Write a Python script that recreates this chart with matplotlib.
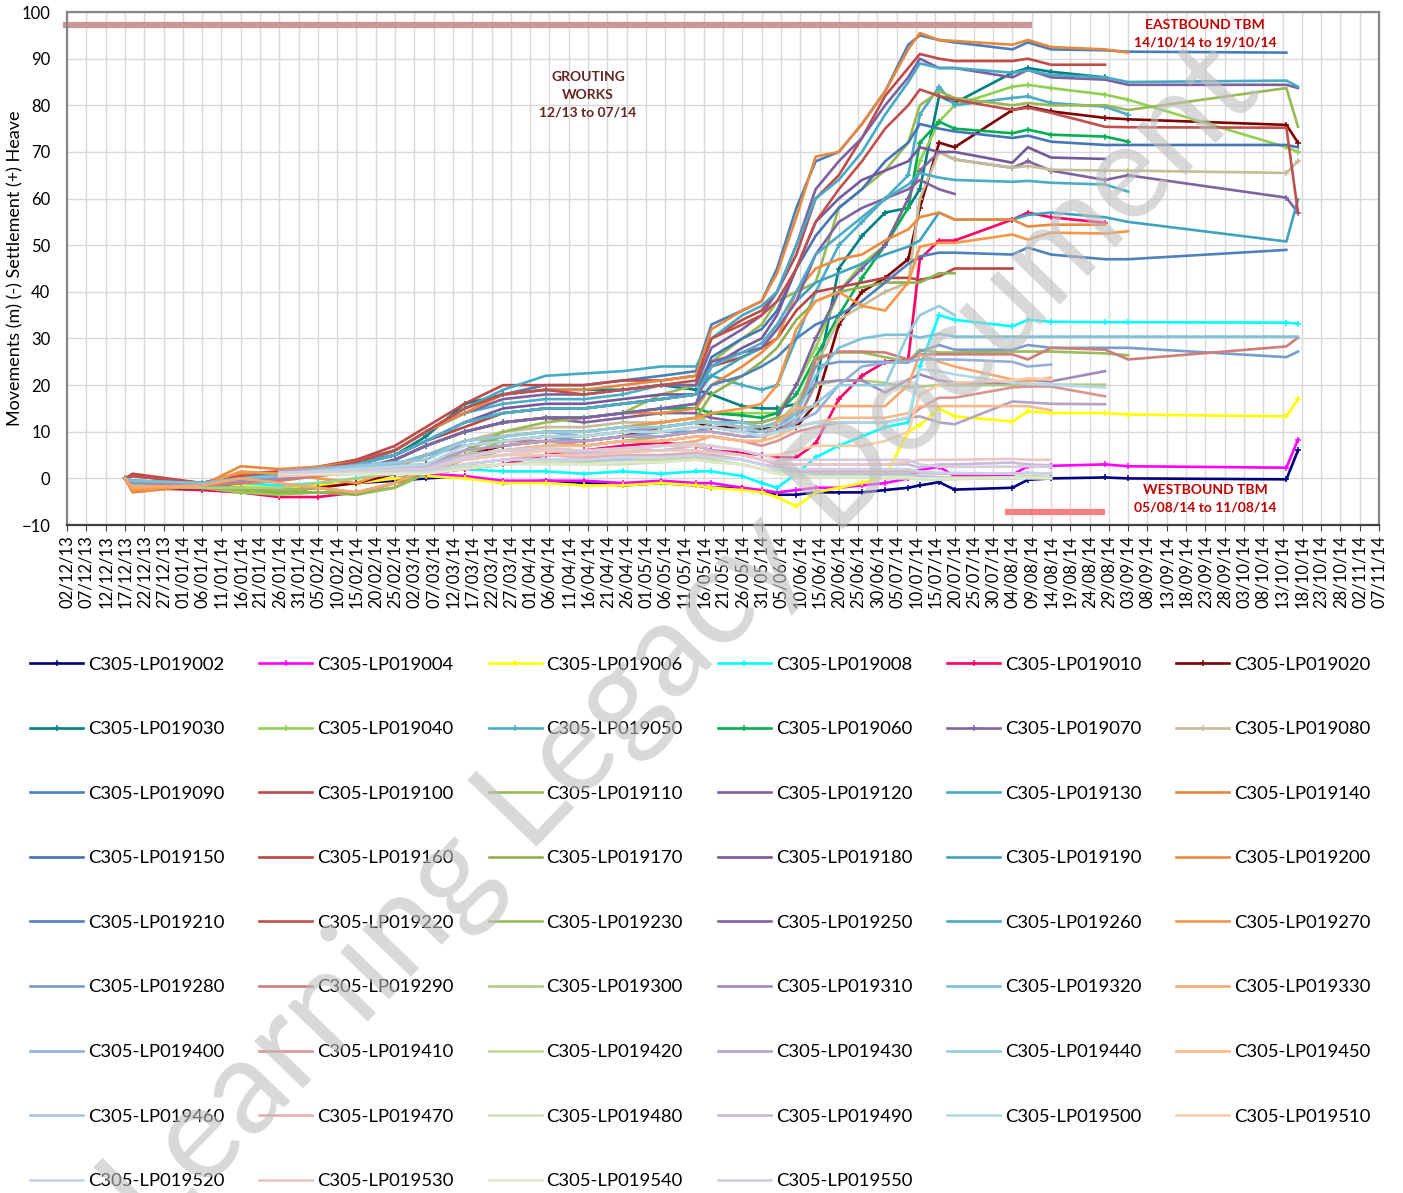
import numpy as np
import pandas as pd
import matplotlib
matplotlib.use("Agg")
import matplotlib.pyplot as plt
import matplotlib.dates as mdates

plt.rcParams['font.family'] = ['Lato', 'DejaVu Sans']

NA = np.nan

# reading dates used as key points (dd/mm/yy)
DATES = ["17/12/13", "19/12/13", "06/01/14", "16/01/14", "26/01/14", "05/02/14",
         "15/02/14", "25/02/14", "05/03/14", "15/03/14", "25/03/14", "05/04/14",
         "15/04/14", "25/04/14", "05/05/14", "14/05/14", "18/05/14", "26/05/14",
         "31/05/14", "04/06/14", "09/06/14", "14/06/14", "20/06/14", "26/06/14",
         "02/07/14", "08/07/14", "11/07/14", "16/07/14", "20/07/14", "04/08/14",
         "08/08/14", "14/08/14", "28/08/14", "03/09/14", "14/10/14", "17/10/14"]

SERIES = ["C305-LP019002", "C305-LP019004", "C305-LP019006", "C305-LP019008", "C305-LP019010", "C305-LP019020",
          "C305-LP019030", "C305-LP019040", "C305-LP019050", "C305-LP019060", "C305-LP019070", "C305-LP019080",
          "C305-LP019090", "C305-LP019100", "C305-LP019110", "C305-LP019120", "C305-LP019130", "C305-LP019140",
          "C305-LP019150", "C305-LP019160", "C305-LP019170", "C305-LP019180", "C305-LP019190", "C305-LP019200",
          "C305-LP019210", "C305-LP019220", "C305-LP019230", "C305-LP019250", "C305-LP019260", "C305-LP019270",
          "C305-LP019280", "C305-LP019290", "C305-LP019300", "C305-LP019310", "C305-LP019320", "C305-LP019330",
          "C305-LP019400", "C305-LP019410", "C305-LP019420", "C305-LP019430", "C305-LP019440", "C305-LP019450",
          "C305-LP019460", "C305-LP019470", "C305-LP019480", "C305-LP019490", "C305-LP019500", "C305-LP019510",
          "C305-LP019520", "C305-LP019530", "C305-LP019540", "C305-LP019550"]

COLORS = ['#000080', '#FF00FF', '#FFFF00', '#00FFFF', '#FF0066', '#800000',
          '#008080', '#92D050', '#4BACC6', '#00B050', '#8064A2', '#C4BD97',
          '#4A7EBB', '#BE4B48', '#98B954', '#7D60A0', '#46AAC5', '#E6883E',
          '#4575B4', '#B84743', '#8FB150', '#76599A', '#40A3BD', '#EB8B3F',
          '#4F81BD', '#C0504D', '#9BBB59', '#8064A2', '#4BACC6', '#F79646',
          '#7A9CCD', '#CD7E7C', '#B1CB84', '#9F8BBA', '#7CC1D6', '#F8A86F',
          '#94AFDA', '#D99593', '#C3D69B', '#B3A2C7', '#93CDDD', '#FAB98A',
          '#AFC3E3', '#E3AFAE', '#D3E1B7', '#C6BAD7', '#B1DAE6', '#FBCCAA',
          '#C6D4EB', '#EBC6C5', '#DEE8CB', '#D6CCE2']

N_MARKED = 12  # first 12 series carry "+" markers

S002 = [0, -2, -1.5, -2, -2, -1.5, -1, -0.5, 0, 0.5, -1, -0.5, -1, -1.5, -1, -1.5, -2, -2,
        -3, -3.5, -3.5, -3, -3, -3, -2.5, -2, -1.5, -0.8, -2.4, -2, -0.3, 0, 0.2, 0, -0.2, 6]
S004 = [0, -1.5, -1.5, -2, -2.5, -1.5, -1, 0, 1, 0.5, -0.5, -0.5, -0.5, -1, -0.5, -1, -1, -2,
        -2.5, -3, -2.5, -2, -2, -1.5, -1, 0, 1.8, 2.5, 0.5, 0.8, 2.6, 2.7, 3, 2.6, 2.3, 8.3]
S006 = [0, -1, -1.5, -1.5, -2, -1.5, -1, 0, 0.5, 0, -1, -1, -1.5, -1.5, -1, -1.5, -2, -2.5,
        -3, -4, -6, -3, -2, -1, 0.5, 10, 11.5, 15, 13.3, 12.2, 14.4, 14, 14, 13.7, 13.3, 17]
S008 = [0, -1, -1.5, -1, -1.5, -1, 0, 1, 2, 2, 1.5, 1.5, 1, 1.5, 1, 1.5, 1.5, 0.5,
        -1, -2, 1, 4.5, 7, 9, 11, 12, 24, 35, 34, 32.6, 34, 33.6, 33.5, 33.5, 33.4, 33.2]
S010 = [0, -2, -2.5, -3, -4, -4, -3, -1, 1, 2, 3, 5, 6, 7, 7.7, 7, 6, 5.5,
        5, 4.5, 4.5, 7.5, 17, 22, 25, 25.5, 47, 51, 51, 55.5, 57, 56, 54.8, NA, NA, NA]
S020 = [0, -2.4, -2, -2.5, -3, -2, -1, 1, 3, 5, 7, 8, 8, 9, 11, 12, 11, 11,
        10.5, 11, 11, 16, 33, 40, 43, 47, 58, 72, 71, 79, 79.7, 78.7, 77.3, 77, 75.8, 72]
S030 = [0, -1, -1.5, 0, 1, 2, 3, 5, 9, 16, 18, 19, 19, 19, 20, 19, 18, 15.5,
        15, 15, 16, 20, 45, 52, 57, 58, 62, 82, 80.5, 87, 88, 87.2, 86, NA, NA, NA]
S040 = [0, -2, -2, -3, -3.5, -3, -3, -1, 2, 5, 8, 9, 9, 10, 11, 12, 14, 14,
        14, 14, 20, 28, 40, 46, 50, 60, 68, 76.5, 80, 84, 84.4, 83.7, 82.3, 81.2, 71, 70]
S050 = [0, -1, -1, 0, 1, 1.5, 3, 6, 10, 14, 16, 17, 17, 18, 20, 20, 22, 20,
        19, 20, 30, 40, 50, 55, 60, 65, 78, 84, 80, 81.6, 81.9, 80.5, 79.7, 78, NA, NA]
S060 = [0, -1.5, -2, -1, 0, 1, 2, 4, 7, 10, 12, 13, 13, 14, 15, 15, 14, 13.5,
        13, 14, 18, 26, 35, 43, 50, 58, 72, 76.5, 75, 74, 74.8, 73.7, 73.3, 72.2, NA, NA]
S070 = [0, -1, -1.5, -1, 0, 1, 2, 4, 7, 10, 12, 13, 12, 13, 14, 14, 13, 12,
        12, 13, 20, 30, 40, 45, 50, 60, 66, 70, 68.4, 66.6, 68, 66, 64, 65, 60.2, 57]
S080 = [0, -1, -1.5, -1, -0.5, 0.5, 1.5, 3, 5, 8, 10, 11, 11, 12, 12, 13, 12, 11,
        11, 12, 16, 24, 34, 37, 40, 42, 60, 70, 68.4, 66.6, 67, 66.2, 66, 66, 65.5, 68]
S090 = [0, -1, -1, 1, 1, 2, 4, 6, 10, 15, 18, 20, 20, 21, 22, 23, 33, 36,
        38, 45, 58, 68, 70, 76, 83, 93, 95, 94, 93.5, 92, 93.5, 92, 91.8, 91.5, 91.3, NA]
S100 = [0, 1, -1, 1, 1.5, 2.5, 4, 7, 11, 16, 20, 20, 20, 21, 21, 22, 30, 34,
        36, 40, 48, 60, 65, 73, 82, 88, 91, 90, 89.5, 89.5, 90, 88.7, 88.7, NA, NA, NA]
S110 = [0, -2, -2, -2.5, -3, -2, -3.5, -2, 2, 6, 10, 12, 13, 14, 18, 20, 25, 30,
        33, 38, 40, 42, 58, 62, 66, 72, 80, 83, 81.6, 80, 80.5, 80, 80, 79, 83.7, 75.4]
S120 = [0, -1, -1.5, 0, 1, 2, 3, 6, 10, 14, 17, 18, 18, 19, 20, 20, 28, 32,
        35, 40, 50, 62, 68, 73, 80, 86, 90, 88, 88, 86, 87.6, 86, 85.5, 84.4, 84.4, 83.7]
S130 = [0, -0.5, -1, 0, 1, 2, 3, 6, 10, 15, 19, 22, 22.5, 23, 24, 24, 30, 35,
        37, 40, 50, 60, 64, 70, 78, 85, 89, 88, 88, 87, 87.5, 86.5, 86, 85, 85.3, 84]
S140 = [0, -3, -1.5, 2.6, 2, 2.5, 3.5, 6, 10, 14, 18, 19, 19, 20, 21, 22, 32, 36,
        38, 44, 56, 69, 70, 76, 83, 92, 95.5, 94, 93.8, 93, 94, 92.5, 92, 91.3, NA, NA]
S150 = [0, -1, -1, 0, 0.5, 1.5, 3, 5, 8, 12, 14, 15, 15, 16, 17, 18, 26, 30,
        32, 36, 45, 52, 58, 62, 68, 72, 76, 75, 74.4, 73, 73.5, 72.2, 71.5, 71.5, 71.5, 71]
S160 = [0, 0.5, -1, 0, 0.5, 1.5, 3, 5, 8, 11, 14, 15, 15, 16, 17, 18, 24, 26,
        28, 30, 36, 40, 41, 42, 43, 43, 42.6, 43.3, 45, 45, NA, NA, NA, NA, NA, NA]
S170 = [0, -2, -2, -2, -3, -3, -3.5, -1, 3, 6, 9, 10, 10, 11, 12, 13, 18, 22,
        25, 28, 34, 38, 40, 41, 42, 42, 42, 44, 44, NA, NA, NA, NA, NA, NA, NA]
S180 = [0, -1, -1.5, 0, 1, 2, 3, 5, 8, 12, 15, 16, 16, 17, 18, 18, 24, 28,
        30, 35, 45, 55, 60, 64, 66, 68, 71, 70, 70, 67.7, 71, 68.8, 68.5, NA, NA, NA]
S190 = [0, -0.5, -1, 0, 1, 2, 3, 5, 8, 12, 14, 15, 15, 16, 17, 18, 22, 26,
        28, 32, 38, 42, 44, 46, 48, 49.7, 51, 57, 55.5, 55.5, 56.5, 57, 56, 55, 50.8, 59.8]
S200 = [0, -2, -1.5, 1, 1, 1.5, 2, 4, 7, 10, 12, 13, 13, 14, 14, 15, 20, 24,
        27, 30, 40, 45, 47, 48, 51, 53.4, 56, 57, 55.5, 55.5, 54, 54.4, 54.4, NA, NA, NA]
S210 = [0, -1, -1, 0, 0.5, 1, 2, 4, 7, 10, 12, 13, 13, 14, 15, 16, 20, 22,
        24, 26, 30, 33, 35, 38, 42, 46, 47.6, 48.4, 48.4, 48, 49.5, 48, 47, 47, 49, NA]
S220 = [0, 0.5, -1, 0.5, 1, 2, 3.5, 6, 10, 15, 18, 19, 18, 19, 20, 21, 30, 33,
        35, 38, 45, 55, 62, 68, 75, 80, 83.4, 82, 81.2, 79, 79.5, 78.4, 75.4, 75.3, 75.2, 57]
S230 = [0, -2, -2, -2, -2.5, -2, -3, -2, 1, 4, 6, 7, 7, 8, 9, 10, 12, 12,
        12, 13, 14, 26, 27, 27, 26, 25, 27.6, 27, 27, 27.2, 27.2, 27.2, 26.8, 26.4, NA, NA]
S250 = [0, -1, -1.5, -1, 0, 1, 2, 4, 7, 10, 12, 13, 13, 14, 15, 16, 25, 27,
        28, 32, 38, 48, 55, 58, 60, 62, 64, 62, 61, NA, NA, NA, NA, NA, NA, NA]
S260 = [0, -0.5, -1, 0, 1, 1.5, 3, 5, 8, 12, 14, 15, 15, 16, 17, 18, 24, 27,
        29, 33, 40, 48, 52, 56, 60, 63, 65.5, 64.5, 64, 63.6, 63.8, 63.4, 63, 61.5, NA, NA]
S270 = [0, -2.5, -1.5, 1.5, 1, 0, -1, 2, 5, 8, 9, 10, 10, 11, 12, 13, 14, 15,
        16, 20, 32, 38, 40, 37, 36, 42, 49.7, 50.5, 50.5, 52.3, 51.2, 52.7, 52.5, 53, NA, NA]
S280 = [0, -1, -1, 0, 0, 1, 2, 3, 5, 7, 8, 9, 8, 9, 10, 10, 11, 10,
        10, 11, 14, 24, 25, 25, 25, 24.8, 27.2, 28.6, 27.6, 27.6, 28.6, 28, 28, 28, 26, 27.2]
S290 = [0, -1, -1.5, -1, -0.5, 0.5, 1.5, 3, 5, 7, 8, 8, 8, 9, 9, 10, 10, 9,
        9, 10, 13, 25.5, 27.2, 27.2, 27, 25.5, 26.6, 26.6, 26.6, 26.6, 25.5, 28, 27.6, 25.5, 28.3, 30.2]
S300 = [0, -1.5, -2, -2, -2, -1, 0, 1, 3, 5, 6, 7, 7, 8, 8, 9, 9, 8,
        8, 9, 12, 20, 21, 21, 20.5, 19.5, 19.7, 20, 20, 20, 20.2, 20.1, 20.1, NA, NA, NA]
S310 = [0, -1, -1, -0.5, 0, 1, 2, 3, 5, 7, 8, 9, 9, 10, 11, 12, 12, 11,
        10, 10, 12, 20.5, 21, 21, 18.4, 21.2, 22.3, 21, 20.5, 20.5, 21, 20.8, 23, NA, NA, NA]
S320 = [0, -0.5, -1, 0, 0.5, 1, 2, 3, 5, 8, 9, 10, 10, 11, 11, 12, 12, 12,
        11, 12, 14, 22, 28, 30, 30.8, 30.8, 30.2, 31, 30.4, 30.4, 30.4, 30.4, 30.4, 30.4, 30.4, 30.4]
S330 = [0, -2, -1.5, 0, -1, -2, -3, -1, 2, 4, 5, 6, 5, 6, 7, 8, 9, 8,
        8, 12, 15, 15.5, 15.5, 15.5, 15.5, 20, 26.6, 25, 24, 21.2, 20.8, 21.6, NA, NA, NA, NA]
S400 = [NA, NA, NA, NA, 1.5, NA, NA, NA, 4, 8, 9, 10, 9, 10, 10, 11, 11, 10,
        9, 10, 12, 14, 20, 24, 24.8, 25, 25.5, 25.5, 25.5, 25, 24, 24.4, NA, NA, NA, NA]
S410 = [NA, NA, NA, NA, 1, NA, NA, NA, 3, 6, 7, 8, 7, 8, 8, 9, 9, 8,
        7, 8, 10, 11, 12, 12, 12, 13, 15, 17.3, 17.3, 19.5, 19.7, 19.7, 17.6, NA, NA, NA]
S420 = [NA, NA, NA, NA, 1, NA, NA, NA, 1.5, 3, 4, 4, 3.5, 4, 4, 4.5, 4, 3,
        2, 1, 1, 0.5, 0.5, 0.5, 0.5, 0.5, 0.5, 0.2, 0.2, 0.2, 0.5, 0.3, NA, NA, NA, NA]
S430 = [NA, NA, NA, NA, 1.5, NA, NA, NA, 3, 6, 7, 8, 8, 9, 9, 10, 10, 9,
        9, 10, 11, 12, 12, 12, 12, 13, 13.3, 12, 11.6, 16.5, 16.3, 16, 15.9, NA, NA, NA]
S440 = [NA, NA, NA, NA, 1, NA, NA, NA, 4, 8, 9, 10, 10, 11, 11, 12, 12, 11,
        10, 11, 13, 16, 20, 20, 20, 31, 35, 37, 35, NA, NA, NA, NA, NA, NA, NA]
S450 = [NA, NA, NA, NA, 0.5, NA, NA, NA, 2, 5, 6, 7, 7, 8, 8, 9, 9, 8,
        8, 9, 11, 12, 13, 13, 13, 14, 15.5, 15.5, 15.5, 15.5, 15.5, 14.6, NA, NA, NA, NA]
S460 = [NA, NA, NA, NA, 1, NA, NA, NA, 1, 3, 4, 4, 4, 4, 5, 5, 5, 4,
        3, 2, 1.5, 1, 1, 1, 1, 1, 0.5, 0.2, 0, 0, 0.2, 0, NA, NA, NA, NA]
S470 = [NA, NA, NA, NA, 0.5, NA, NA, NA, 1.5, 3, 4, 5, 4.5, 5, 5, 5.5, 5, 4,
        3, 2.5, 2, 1.5, 1.5, 1.5, 1.5, 1.5, 1.2, 1, 1, 1, 1.2, 1, NA, NA, NA, NA]
S480 = [NA, NA, NA, NA, 0.8, NA, NA, NA, 1, 2.5, 3, 3.5, 3, 3, 3.5, 4, 3.5, 3,
        2, 1.5, 1, 0.5, 0.5, 0.5, 0, 0, -0.2, -0.3, -0.2, 0.2, 0, 0, NA, NA, NA, NA]
S490 = [NA, NA, NA, NA, 1.2, NA, NA, NA, 2.5, 5, 6, 6, 5.5, 6, 6, 7, 6, 5,
        4, 3, 3, 3, 3, 3, 3, 3, 2.3, 3, 3, 3.4, 3, 2.8, NA, NA, NA, NA]
S500 = [NA, NA, NA, NA, 1, NA, NA, NA, 3, 7, 8, 9, 9, 10, 10, 11, 11, 10,
        9, 10, 11, 12, 12, 12, 12, 13, 23.4, 23, 22.3, 20.5, 20.3, 20.1, 19.5, NA, NA, NA]
S510 = [NA, NA, NA, NA, 0.5, NA, NA, NA, 2, 4, 5, 6, 6, 6, 7, 7, 7, 6,
        5, 5, 6, 7, 7, 7, 8, 10, 18, 20, 20.5, 21, 21.5, 21.2, NA, NA, NA, NA]
S520 = [NA, NA, NA, NA, 1, NA, NA, NA, 1.5, 3, 4, 4, 4, 4.5, 4.5, 5, 4.5, 4,
        3, 2, 2, 2, 2, 2, 2, 2, 1.5, 1.2, 1.2, 1, 1.2, 1, NA, NA, NA, NA]
S530 = [NA, NA, NA, NA, 0.8, NA, NA, NA, 2, 4, 5, 5, 5, 5.5, 6, 6, 5.5, 5,
        4, 3.5, 3, 3, 3, 3, 3, 3.5, 4, 4, 4, 4.2, 4, 4, NA, NA, NA, NA]
S540 = [NA, NA, NA, NA, 1, NA, NA, NA, 1, 2, 3, 3, 3, 3.5, 3.5, 4, 3.5, 3,
        2, 1, 0.5, 0.3, 0.3, 0.3, 0.3, 0.3, 0, 0, 0, 0.1, 0.2, 0.1, NA, NA, NA, NA]
S550 = [NA, NA, NA, NA, 1.2, NA, NA, NA, 2, 4.5, 6, 6.5, 6, 6.5, 7, 7.5, 7, 6,
        5, 4, 4, 4, 4, 4, 4, 4, 3, 2.5, 2.5, 2.5, 2.6, 2.5, NA, NA, NA, NA]

VALUES = [S002, S004, S006, S008, S010, S020, S030, S040, S050, S060, S070, S080,
          S090, S100, S110, S120, S130, S140, S150, S160, S170, S180, S190, S200,
          S210, S220, S230, S250, S260, S270, S280, S290, S300, S310, S320, S330,
          S400, S410, S420, S430, S440, S450, S460, S470, S480, S490, S500, S510,
          S520, S530, S540, S550]

# works / TBM periods
GROUT_BAR = ["01/12/13", "09/08/14"]
GROUT_LEVEL = 97.3
WEST_BAR = ["02/08/14", "28/08/14"]
WEST_LEVEL = -7.1

for v in VALUES:
    assert len(v) == len(DATES)

x = pd.to_datetime(DATES, format="%d/%m/%y")

fig = plt.figure(figsize=(14.03, 11.93), dpi=100)
ax = fig.add_axes([0.0478, 0.5599, 0.9351, 0.4300])

handles = []
for name, col, vals, i in zip(SERIES, COLORS, VALUES, range(len(SERIES))):
    y = np.array(vals, dtype=float)
    m = ~np.isnan(y)
    kw = dict(color=col, lw=1.9, label=name, solid_joinstyle="round")
    if i < N_MARKED:
        kw.update(marker="+", ms=5, mew=1.1)
    h, = ax.plot(x[m], y[m], **kw)
    handles.append(h)

# period bars
gb = pd.to_datetime(GROUT_BAR, format="%d/%m/%y")
ax.plot(gb, [GROUT_LEVEL] * 2, color="#CC9797", lw=4.5, solid_capstyle="butt", clip_on=False)
wb = pd.to_datetime(WEST_BAR, format="%d/%m/%y")
ax.plot(wb, [WEST_LEVEL] * 2, color="#FF7C80", lw=4.5, solid_capstyle="butt")

ax.text(pd.Timestamp("2014-04-16"), 82.3, "GROUTING\nWORKS\n12/13 to 07/14", ha="center", va="center",
        fontsize=10, fontweight="bold", color="#632523", linespacing=1.6)
ax.text(pd.Timestamp("2014-09-23"), 95.4, "EASTBOUND TBM\n14/10/14 to 19/10/14", ha="center", va="center",
        fontsize=10, fontweight="bold", color="#C00000", linespacing=1.6)
ax.text(pd.Timestamp("2014-09-23"), -4.4, "WESTBOUND TBM\n05/08/14 to 11/08/14", ha="center", va="center",
        fontsize=10, fontweight="bold", color="#C00000", linespacing=1.6)

# axes styling
ax.set_xlim(pd.Timestamp("2013-12-02"), pd.Timestamp("2014-11-07"))
ax.set_ylim(-10, 100)
ax.set_xticks(pd.date_range("2013-12-02", "2014-11-07", freq="5D"))
ax.xaxis.set_major_formatter(mdates.DateFormatter("%d/%m/%y"))
ax.set_yticks(range(-10, 101, 10))
ax.tick_params(axis="x", rotation=90, labelsize=12, length=4, color="#404040", pad=3)
ax.tick_params(axis="y", labelsize=12, length=0, pad=12)
ax.grid(True, color="#D9D9D9", lw=1.0)
ax.set_axisbelow(True)
for s in ["left", "top", "right"]:
    ax.spines[s].set_color("#868686")
    ax.spines[s].set_linewidth(1.6)
ax.spines["bottom"].set_color("#404040")
ax.spines["bottom"].set_linewidth(1.6)
ax.set_ylabel("Movements (m) (-) Settlement (+) Heave", fontsize=13)
ax.yaxis.set_label_coords(-0.033, 0.5)

# legend filled row by row like the original
order = []
for c in range(6):
    for r in range(9):
        k = r * 6 + c
        if k < len(handles):
            order.append(k)
fig.legend([handles[k] for k in order], [SERIES[k] for k in order], ncol=6,
           loc="upper left", bbox_to_anchor=(0.0214, 0.4497), frameon=False,
           fontsize=13.3, handlelength=2.87, handletextpad=0.27, columnspacing=1.89,
           labelspacing=2.63, borderpad=0, borderaxespad=0)

# watermark
fig.text(0.487, 0.462, "Learning Legacy Document", fontsize=96, color="#BFBFBF", alpha=0.6,
         rotation=46, ha="center", va="center", zorder=10)

fig.savefig("out.png", dpi=100)
